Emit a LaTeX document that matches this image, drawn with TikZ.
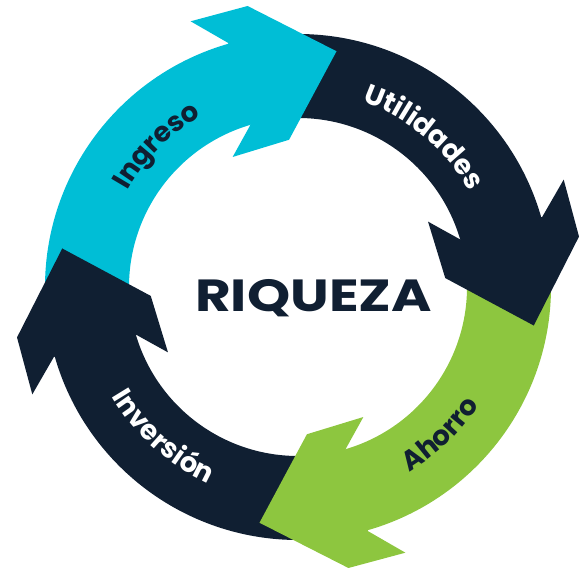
\documentclass[tikz,border=0pt]{standalone}
\usepackage{fontspec}
\newfontfamily\pop{Poppins}
\usetikzlibrary{decorations.text}
\definecolor{cycCyan}{RGB}{0,190,214}
\definecolor{cycNavy}{RGB}{16,31,50}
\definecolor{cycGreen}{RGB}{141,198,63}
\begin{document}
\begin{tikzpicture}[x=1pt,y=1pt,
  arclabel/.style 2 args={decorate, decoration={text along path, text align=center,
      text color=#2, text={|\pop\bfseries\fontsize{27.5}{28}\selectfont|#1}}}]
\useasboundingbox (0,0) rectangle (585,577);
\coordinate (O) at (298,290);

% ring segments: each band starts under the head of the previous arrow
\foreach \e/\col in {106/cycCyan, 16/cycNavy, -74/cycGreen, -164/cycNavy} {
  \begin{scope}[shift={(O)}, rotate=\e]
    \fill[\col] (75:253) arc[start angle=75, end angle=-3, radius=253]
      -- (-3:169) arc[start angle=-3, end angle=75, radius=169] -- cycle;
  \end{scope}
}

% arrow heads, drawn over the start of the following band
\foreach \e/\col in {106/cycCyan, 16/cycNavy, -74/cycGreen, -164/cycNavy} {
  \begin{scope}[shift={(O)}, rotate=\e]
    \fill[\col] (170,0) -- (143,27) -- (144,-32) -- (216,-102)
      -- (284,-29) -- (285,30) -- (254,0) -- cycle;
  \end{scope}
}

% curved labels
\begin{scope}[shift={(O)}]
  \path[arclabel={Ingreso}{cycNavy}] (175:196) arc[start angle=175, end angle=95, radius=196];
  \path[arclabel={Utilidades}{white}] (90:196) arc[start angle=90, end angle=10, radius=196];
  \path[arclabel={Ahorro}{cycNavy}] (-86:216) arc[start angle=-86, end angle=-6, radius=216];
  \path[arclabel={Inversión}{white}] (188:216) arc[start angle=188, end angle=268, radius=216];
\end{scope}

\node (title) [font=\pop\bfseries\fontsize{45}{45}\selectfont, text=cycNavy,
  anchor=base, inner sep=0pt, xscale=1.22] at (313.5,265) {RIQUEZA};
\end{tikzpicture}
\end{document}
